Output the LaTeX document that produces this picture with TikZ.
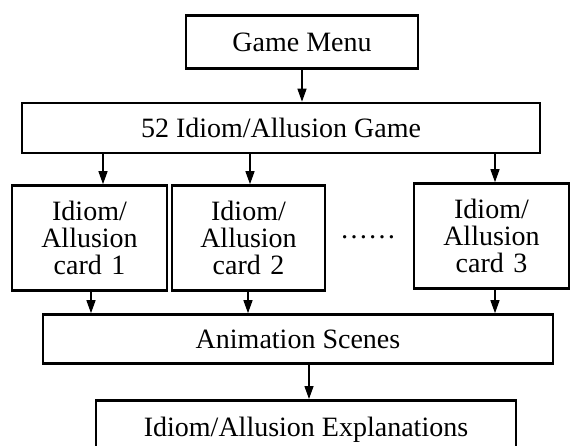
\documentclass[tikz,border=0pt]{standalone}
\usepackage{fontspec}
\setmainfont{Liberation Serif}
\usetikzlibrary{arrows.meta}

\begin{document}
\begin{tikzpicture}[x=1pt,y=-1pt,
  box/.style={draw, line width=2.6pt, inner sep=0pt, font=\fontsize{28}{27}\selectfont},
  card/.style={box, minimum width=155pt, minimum height=105pt, text width=150pt, align=center},
  link/.style={->, line width=1.3pt},
  >={Triangle[length=13pt,width=9pt]}]
\useasboundingbox (0,0) rectangle (570,446);

\node[box, minimum width=232pt, minimum height=53pt] (menu) at (302,42) {Game Menu};
\node[box, minimum width=518pt, minimum height=50pt] (game) at (281,128) {52 Idiom/Allusion Game};

\node[card] (card1) at (89.5,238) {Idiom/\\Allusion\\card 1};
\node[card, minimum width=153pt] (card2) at (248.5,238) {Idiom/\\Allusion\\card 2};
\node[card] (card3) at (491.5,236) {Idiom/\\Allusion\\card 3};
\node[font=\fontsize{28}{27}\selectfont] (dots) at (368,237) {……};

\node[box, minimum width=510pt, minimum height=49pt] (anim) at (298,339) {Animation Scenes};
\node[box, minimum width=420pt, anchor=north, text height=36pt, text depth=30pt] (expl) at (306,399) {Idiom/Allusion Explanations};

\draw[link] (menu.south) -- (menu.south |- game.north);
\foreach \n/\u/\d in {1/103/91, 2/250/248, 3/495/495} {
  \draw[link] (game.south -| \u,0) -- (card\n.north -| \u,0);
  \draw[link] (card\n.south -| \d,0) -- (anim.north -| \d,0);
}
\draw[link] (anim.south -| 309,0) -- (expl.north -| 309,0);
\end{tikzpicture}
\end{document}
